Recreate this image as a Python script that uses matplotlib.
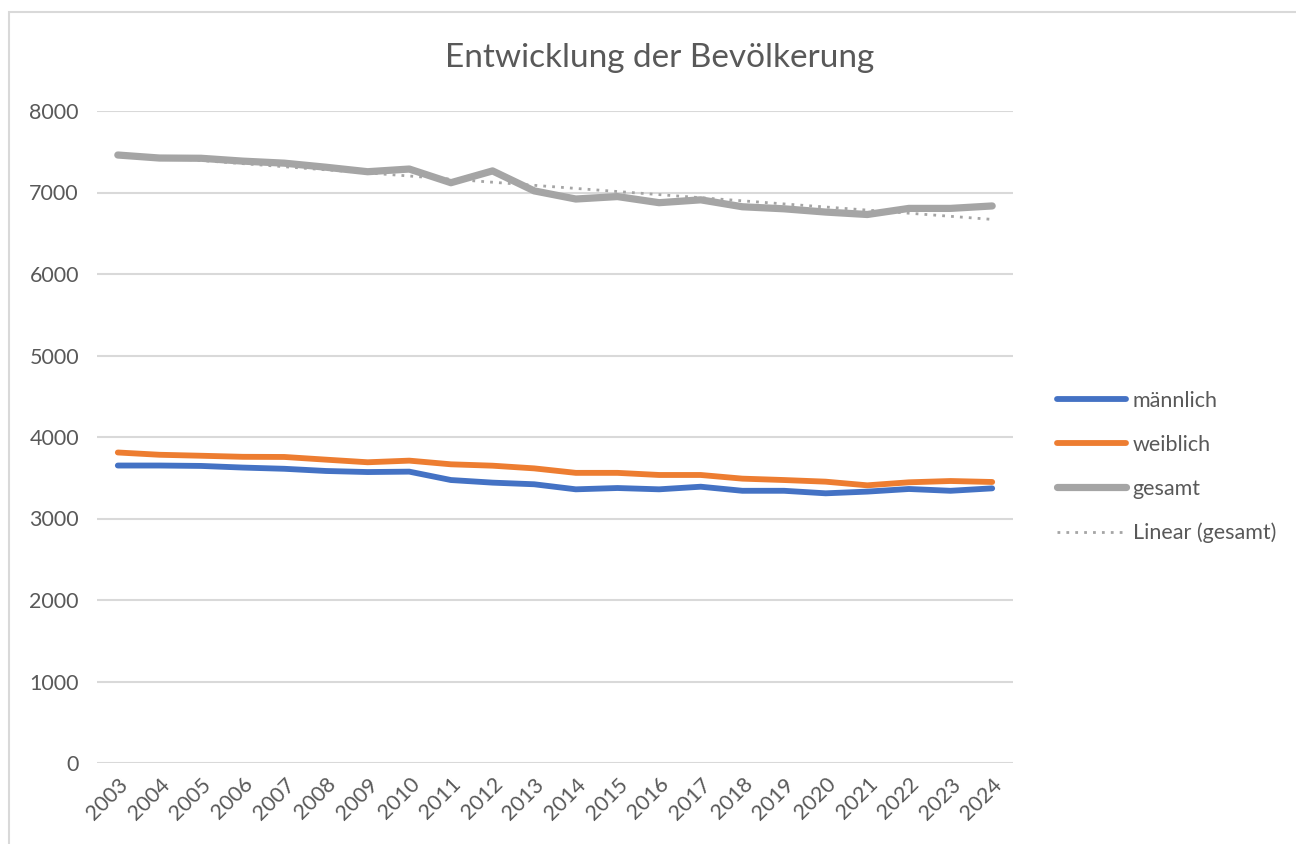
import numpy as np
import matplotlib
matplotlib.use("Agg")
import matplotlib.pyplot as plt
from matplotlib.patches import Rectangle

plt.rcParams['font.family'] = ['Lato', 'DejaVu Sans']

years = [str(y) for y in range(2003, 2025)]
maennlich = [3650, 3650, 3645, 3625, 3610, 3583, 3570, 3575, 3472, 3440, 3420,
             3358, 3374, 3358, 3390, 3340, 3340, 3309, 3330, 3362, 3340, 3370]
weiblich = [3810, 3782, 3770, 3757, 3755, 3722, 3690, 3710, 3665, 3648, 3615,
            3560, 3560, 3534, 3534, 3489, 3472, 3452, 3407, 3444, 3460, 3448]
gesamt = [7460, 7423, 7420, 7385, 7360, 7310, 7255, 7288, 7120, 7265, 7020,
          6920, 6950, 6875, 6910, 6825, 6800, 6760, 6730, 6805, 6805, 6835]

W, H = 1296, 844
fig = plt.figure(figsize=(W / 100, H / 100), dpi=100)
# chart area border, cut off at right and bottom
fig.patches.append(Rectangle((9 / W, -0.2), 1.2, 1.2 - 12 / H, transform=fig.transFigure,
                             fill=False, edgecolor='#d9d9d9', linewidth=1.5))

ax = fig.add_axes([97 / W, (H - 763) / H, 916 / W, 652 / H])
x = np.arange(len(years))

ax.plot(x, maennlich, color='#4472C4', lw=4.2, solid_capstyle='round', label='männlich')
ax.plot(x, weiblich, color='#ED7D31', lw=4.2, solid_capstyle='round', label='weiblich')
ax.plot(x, gesamt, color='#A5A5A5', lw=5.2, solid_capstyle='round', label='gesamt')

# linear trend like Excel
k, d = np.polyfit(x + 1, gesamt, 1)
ax.plot(x, k * (x + 1) + d, color='#A5A5A5', lw=2, ls=(0, (1, 2.2)), label='Linear (gesamt)')

ax.set_xlim(-0.5, len(years) - 0.5)
ax.set_ylim(0, 8000)
ax.set_yticks(range(0, 8001, 1000))
ax.yaxis.grid(True, color='#d9d9d9', lw=1.5)
ax.set_axisbelow(True)
for s in ax.spines.values():
    s.set_visible(False)
ax.tick_params(length=0, labelsize=15.5, labelcolor='#595959')
ax.tick_params(axis='y', pad=13)
ax.set_xticks(x)
ax.set_xticklabels(years, rotation=45, ha='right', rotation_mode='anchor')
ax.tick_params(axis='x', pad=8)

fig.text(660 / W, 1 - 58 / H, 'Entwicklung der Bevölkerung', ha='center', va='center',
         fontsize=24, color='#595959')

leg = ax.legend(loc='center left', frameon=False, fontsize=15.5, labelcolor='#595959',
                handlelength=3.2, handletextpad=0.3, labelspacing=1.12)
leg.set_bbox_to_anchor((1038 / W, 1 - 467 / H), transform=fig.transFigure)

fig.savefig('out.png', dpi=100)
